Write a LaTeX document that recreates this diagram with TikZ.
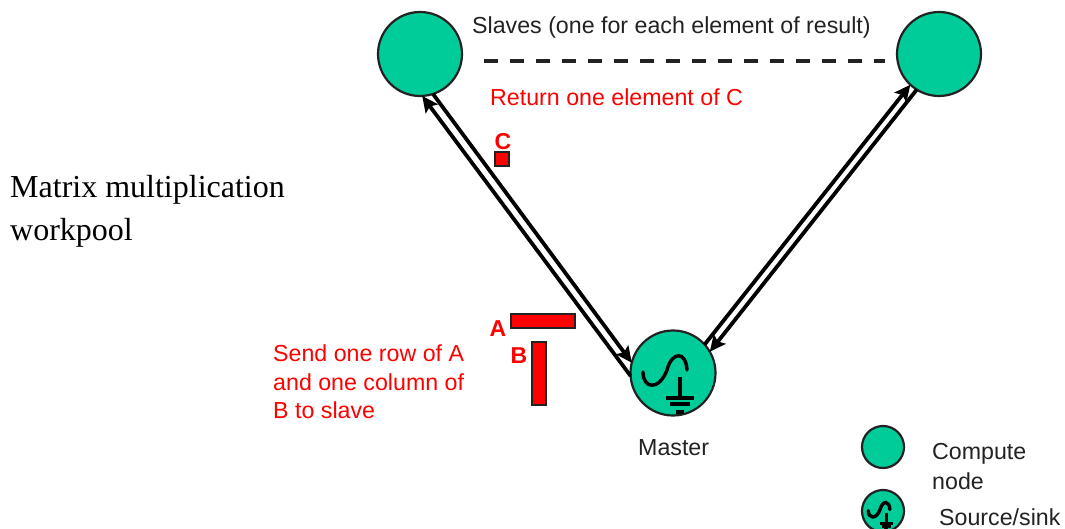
\documentclass[tikz,border=0pt]{standalone}
\usepackage{fontspec}
\setmainfont{Liberation Sans}
\newfontfamily\timesfont{Liberation Serif}
\usetikzlibrary{arrows.meta}
\definecolor{Teal}{HTML}{00CC99}
\definecolor{Ink}{HTML}{222222}
\tikzset{
  compute/.style={circle,draw=Ink,line width=2.2pt,fill=Teal,inner sep=0pt,outer sep=0pt},
  link/.style={line width=3.8pt,black,-{Stealth[length=16pt,width=15pt,inset=3pt]}},
  rtext/.style={anchor=west,inner sep=0pt,text=red,font=\fontsize{23.2}{27}\selectfont},
  btext/.style={anchor=west,inner sep=0pt,text=Ink,font=\fontsize{23.2}{27}\selectfont},
  rblock/.style={fill=red,draw=Ink,line width=1.6pt,inner sep=0pt,outer sep=0pt},
  rletter/.style={inner sep=0pt,text=red,font=\fontsize{23}{27}\selectfont\bfseries},
  pics/srcsink/.style={code={
    \draw[line width=#1,line cap=round](-30,-1).. controls (-30,16) and (-14,18) .. (-6,-3)
      .. controls (-1,-22) and (13,-22) .. (14,-3);
    \draw[line width=#1](7,4)--(7,25);
    \foreach \y/\w in {25/14,31/10,39/4}{\draw[line width=#1](7-\w,\y)--(7+\w,\y);}
  }},
  pics/srcsink/.default=3.4pt
}
\begin{document}
\begin{tikzpicture}[x=1pt,y=-1pt]
  \useasboundingbox(0,0)rectangle(1065,529);
  \node[compute,minimum size=84pt](slaveL)at(420,54){};
  \node[compute,minimum size=84pt](slaveR)at(939,54){};
  \node[compute,minimum size=85pt](master)at(673,373){};
  \pic at(673,373){srcsink};
  % links
  \draw[link](master.184)--(slaveL.273);
  \draw[link](slaveL.288)--(master.166);
  \draw[link](master.42)--(slaveR.227);
  \draw[link](slaveR.238)--(master.30);
  % dashed row of slaves
  \coordinate(dashL)at(484,61);
  \coordinate(dashR)at(885,61);
  \draw[line width=3.2pt,Ink,dash pattern=on 14pt off 12pt](dashL)--(dashR);
  \node[btext](slaves)at(472,27){Slaves (one for each element of result)};
  \node[rtext](ret)at(490,97){Return one element of C};
  % blocks
  \node[rblock,minimum width=14pt,minimum height=14pt](blockC)at(502,159){};
  \node[rblock,minimum width=64pt,minimum height=14pt](blockA)at(543,321){};
  \node[rblock,minimum width=14pt,minimum height=63pt](blockB)at(539,373.5){};
  \node[rletter](labelC)at(503,142){C};
  \node[rletter](labelA)at(498,329){A};
  \node[rletter](labelB)at(519,356){B};
  \node[rtext](send1)at(273,353){Send one row of A};
  \node[rtext](send2)at(273,382){and one column of};
  \node[rtext](send3)at(273,410){B to slave};
  \node[btext](masterlabel)at(638,447.5){Master};
  \node[anchor=west,inner sep=0pt,font=\timesfont\fontsize{32}{43}\selectfont,align=left,text=black](title)at(10,211){Matrix multiplication\\workpool};
  % legend
  \node[compute,minimum size=42pt](legendA)at(883,447){};
  \node[compute,minimum size=42pt](legendB)at(883,511){};
  \pic[scale=.49]at(883,511){srcsink=3.4pt};
  \node[btext](computelabel)at(932,454){Compute};
  \node[btext](nodelabel)at(932,481){node};
  \node[btext](sourcelabel)at(939,517){Source/sink};
\end{tikzpicture}
\end{document}
